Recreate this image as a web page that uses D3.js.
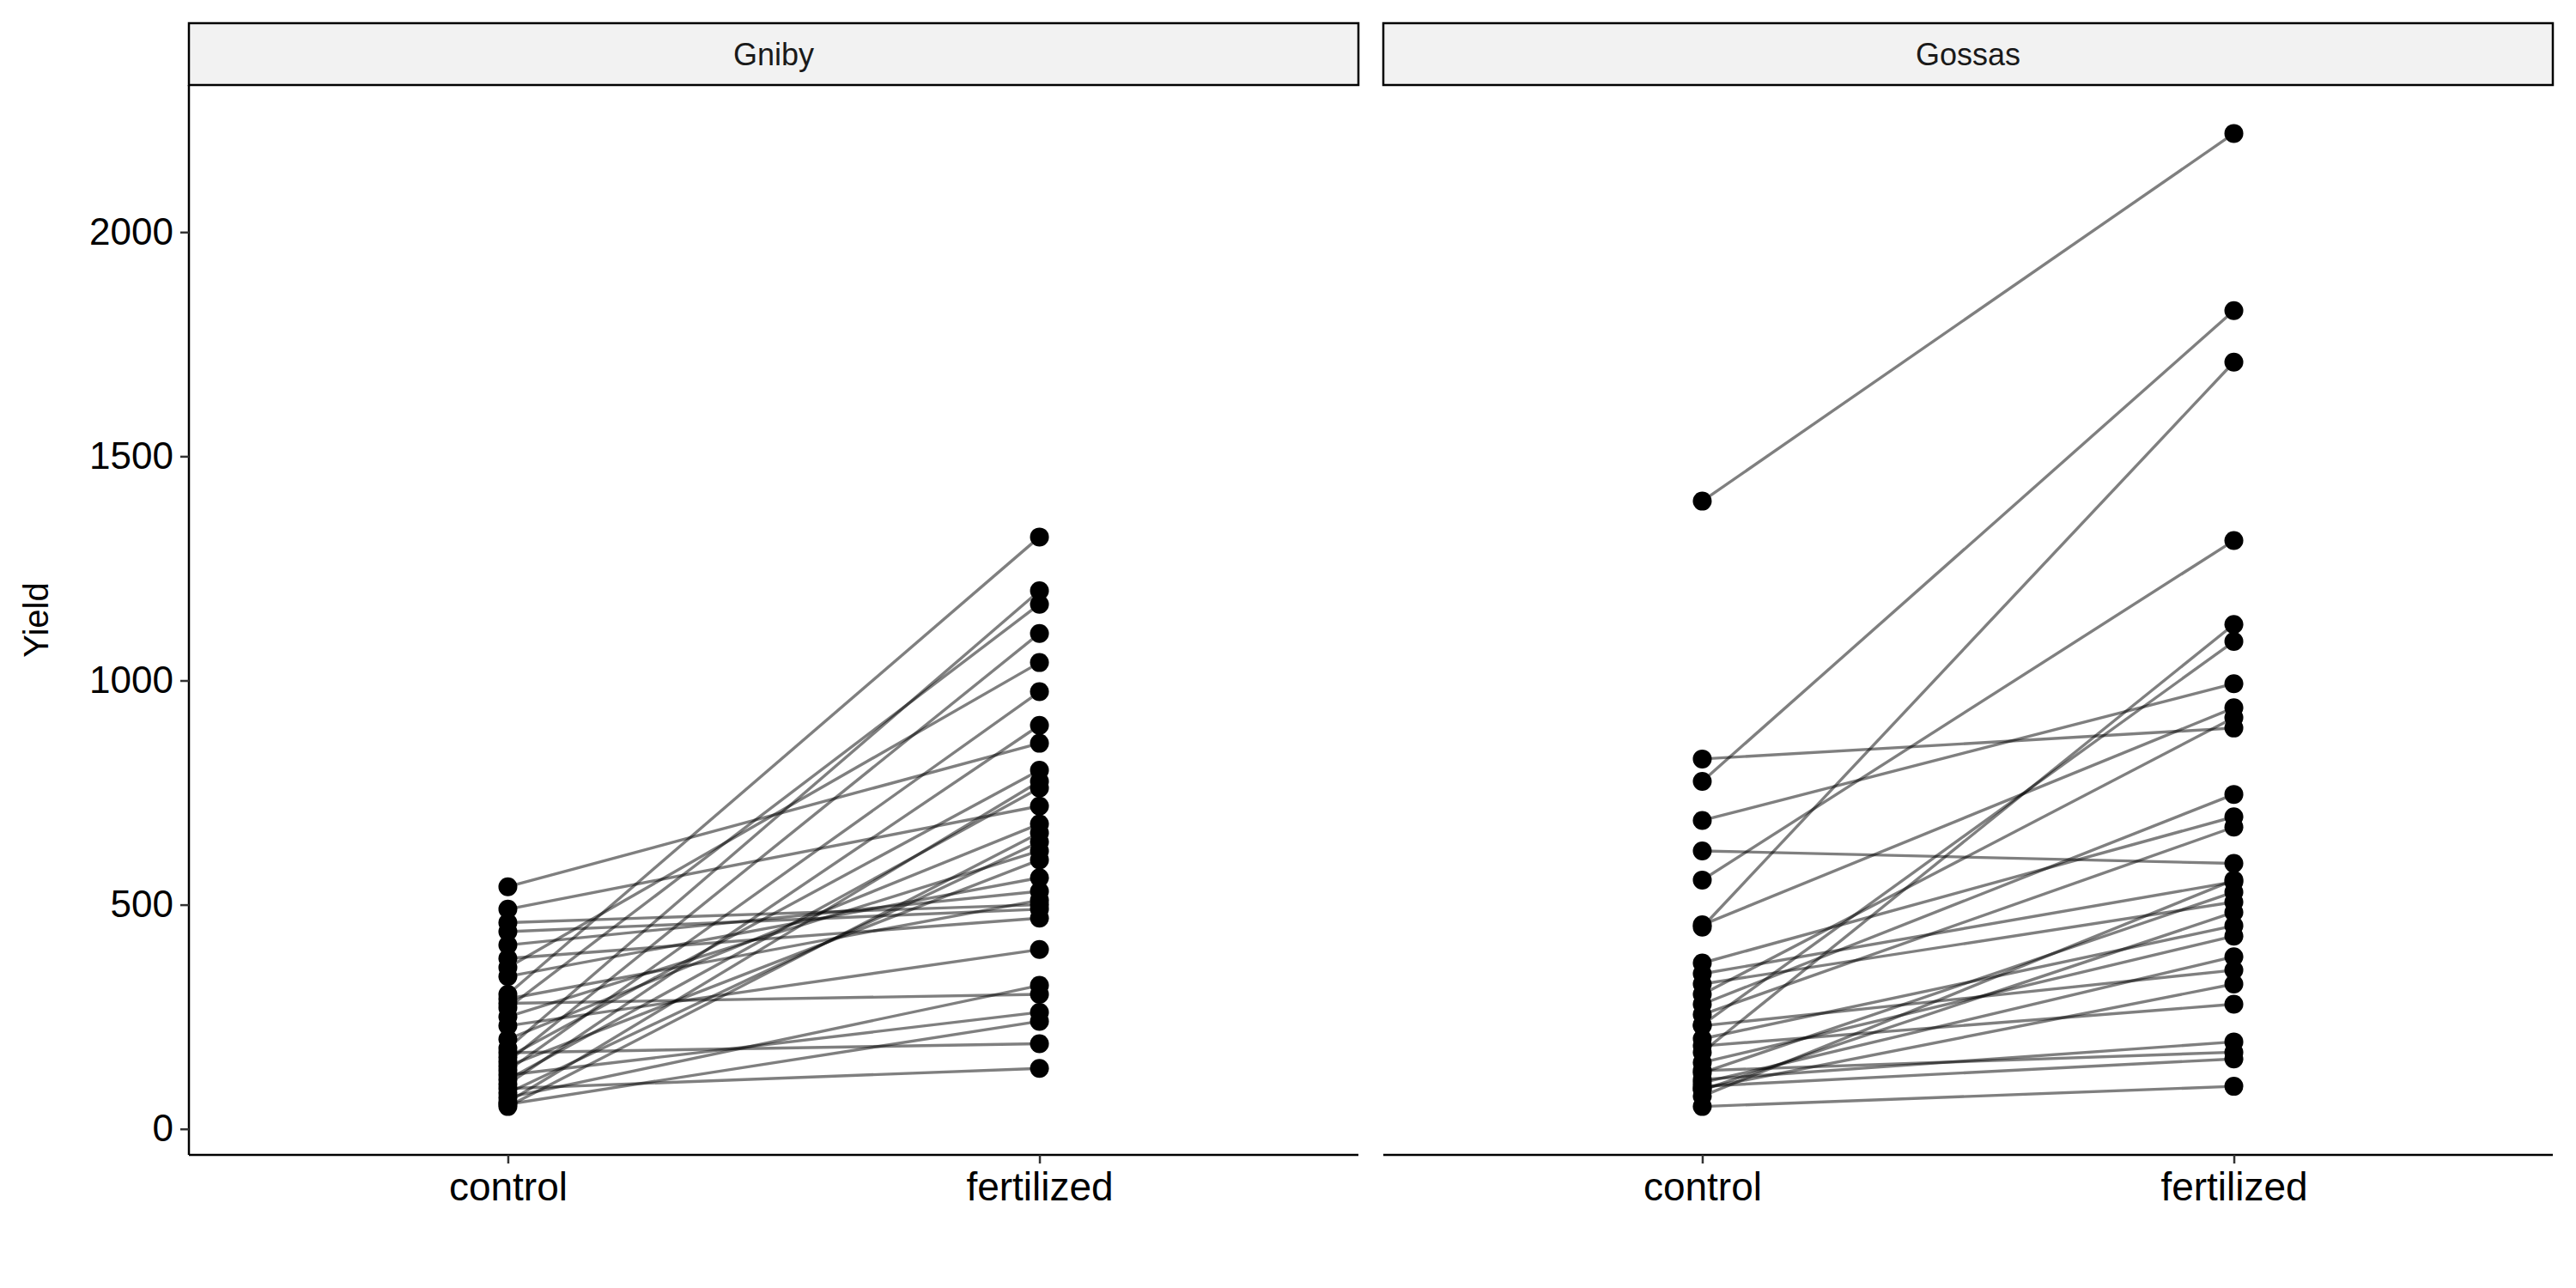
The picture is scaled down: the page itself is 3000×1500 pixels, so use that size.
<!DOCTYPE html>
<html>
<head>
<meta charset="utf-8">
<script src="https://cdn.jsdelivr.net/npm/d3@7"></script>
<style>
  body { margin: 0; background: #fff; }
  text { font-family: "Liberation Sans", Arial, sans-serif; }
</style>
</head>
<body>
<div id="container"></div>
<script>
let w = 3000;
let h = 1500;

let sites = ["Gniby", "Gossas"];
let treatments = ["control", "fertilized"];
let yTicks = [0, 500, 1000, 1500, 2000];

// [control, fertilized] yield pairs per plot
let gnibyPairs = [
  [300, 1320], [180, 1200], [270, 1170], [150, 1105], [360, 1040], [130, 975],
  [540, 860], [100, 900], [160, 800], [60, 775], [110, 760], [490, 720],
  [200, 680], [50, 660], [80, 640], [250, 620], [140, 600], [340, 560],
  [410, 530], [290, 510], [460, 500], [380, 470], [230, 400], [70, 320],
  [280, 300], [120, 260], [55, 240], [440, 490], [170, 190], [90, 135]
];
let gossasPairs = [
  [1400, 2220], [775, 1825], [450, 1710], [555, 1312], [171, 1125], [232, 1087],
  [688, 993], [455, 939], [300, 917], [825, 894], [278, 746], [370, 696],
  [255, 673], [620, 592], [346, 551], [125, 528], [323, 506], [87, 483],
  [201, 453], [73, 555], [148, 430], [103, 384], [230, 354], [90, 323],
  [185, 278], [110, 194], [130, 171], [95, 156], [50, 95]
];
let pairsBySite = [gnibyPairs, gossasPairs];

let panelTop = 99;
let panelBottom = 1345;
let stripTop = 27;
let panels = [{x0: 220, x1: 1582}, {x0: 1611, x1: 2973}];

let svg = d3.select("#container").append("svg")
  .attr("width", w).attr("height", h);

let y = d3.scaleLinear().domain([-58, 2328]).range([panelBottom, panelTop]);

panels.forEach((p, i) => {
  let g = svg.append("g");
  let x = d3.scalePoint().domain(treatments).range([p.x0, p.x1]).padding(0.6);

  // strip
  g.append("rect")
    .attr("x", p.x0).attr("y", stripTop)
    .attr("width", p.x1 - p.x0).attr("height", panelTop - stripTop)
    .attr("fill", "#f2f2f2").attr("stroke", "#000").attr("stroke-width", 2.5);
  g.append("text")
    .attr("x", (p.x0 + p.x1) / 2).attr("y", (stripTop + panelTop) / 2 + 13)
    .attr("text-anchor", "middle").attr("font-size", 36).attr("fill", "#1a1a1a")
    .text(sites[i]);

  let pairs = pairsBySite[i];
  g.selectAll("line.pair").data(pairs).enter().append("line")
    .attr("x1", x("control")).attr("y1", d => y(d[0]))
    .attr("x2", x("fertilized")).attr("y2", d => y(d[1]))
    .attr("stroke", "#000").attr("stroke-opacity", 0.5).attr("stroke-width", 3.4);

  let pts = [];
  pairs.forEach(d => { pts.push([0, d[0]]); pts.push([1, d[1]]); });
  g.selectAll("circle").data(pts).enter().append("circle")
    .attr("cx", d => x(treatments[d[0]])).attr("cy", d => y(d[1]))
    .attr("r", 11).attr("fill", "#000");

  // x axis
  let xAxis = g.append("g").attr("transform", "translate(0," + panelBottom + ")")
    .call(d3.axisBottom(x).tickSize(10).tickPadding(10));
  xAxis.select(".domain").attr("stroke-width", 2.5).attr("d", "M" + p.x0 + ",0H" + p.x1);
  xAxis.selectAll(".tick line").attr("stroke", "#333").attr("stroke-width", 2.5);
  xAxis.selectAll("text").attr("font-size", 46).attr("fill", "#000")
    .style("font-family", "Liberation Sans, Arial, sans-serif");

  if (i === 0) {
    let yAxis = g.append("g").attr("transform", "translate(" + p.x0 + ",0)")
      .call(d3.axisLeft(y).tickValues(yTicks).tickFormat(d3.format("d")).tickSize(10).tickPadding(8));
    yAxis.select(".domain").attr("stroke-width", 2.5)
      .attr("d", "M0," + panelTop + "V" + panelBottom);
    yAxis.selectAll(".tick line").attr("stroke", "#333").attr("stroke-width", 2.5);
    yAxis.selectAll("text").attr("font-size", 44).attr("fill", "#000")
      .style("font-family", "Liberation Sans, Arial, sans-serif");
  }
});

svg.append("text")
  .attr("transform", "translate(56," + (panelTop + panelBottom) / 2 + ") rotate(-90)")
  .attr("text-anchor", "middle").attr("font-size", 40).attr("fill", "#000")
  .text("Yield");
</script>
</body>
</html>
